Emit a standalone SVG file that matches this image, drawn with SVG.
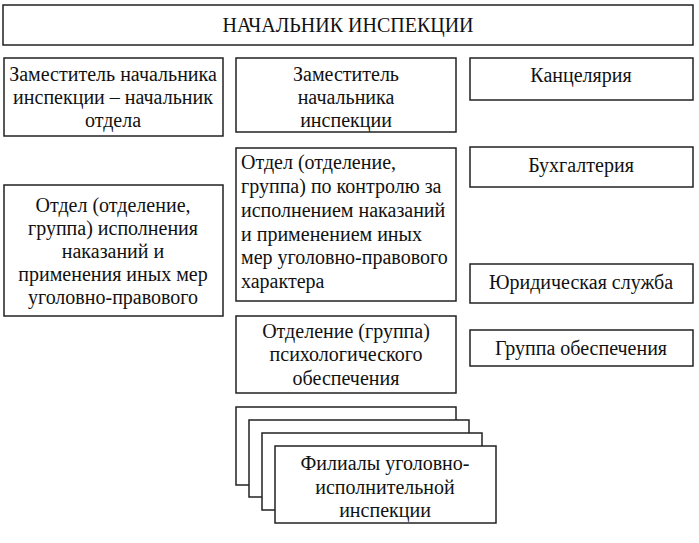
<svg xmlns="http://www.w3.org/2000/svg" width="699" height="543" viewBox="0 0 699 543">
<style>
rect{fill:#fff;stroke:#222;stroke-width:1.5}
text{font-family:"Liberation Serif","Times New Roman",serif;font-size:20px;fill:#111;text-anchor:middle}
.l{text-anchor:start}
</style>
<rect x="0" y="0" width="699" height="543" style="fill:#fff;stroke:none"/>
<g id="head"><rect x="3" y="5" width="690" height="40"/><text x="348" y="32">НАЧАЛЬНИК ИНСПЕКЦИИ</text></g>
<g id="dep1"><rect x="4" y="58" width="219" height="78"/>
<text x="113" y="81">Заместитель начальника</text><text x="113" y="104">инспекции – начальник</text><text x="113" y="127">отдела</text></g>
<g id="dep2"><rect x="236" y="58" width="220" height="74"/>
<text x="346" y="81">Заместитель</text><text x="346" y="104">начальника</text><text x="346" y="127">инспекции</text></g>
<g id="kanc"><rect x="470" y="58" width="223" height="42"/><text x="581" y="82">Канцелярия</text></g>
<g id="buh"><rect x="470" y="147" width="223" height="40"/><text x="581" y="172">Бухгалтерия</text></g>
<g id="otd1"><rect x="4" y="185" width="219" height="131"/>
<text x="113" y="212">Отдел (отделение,</text><text x="113" y="235">группа) исполнения</text><text x="113" y="258">наказаний и</text><text x="113" y="281">применения иных мер</text><text x="113" y="304">уголовно-правового</text></g>
<g id="otd2"><rect x="236" y="148" width="220" height="153"/>
<text class="l" x="241" y="169">Отдел (отделение,</text><text class="l" x="241" y="193">группа) по контролю за</text><text class="l" x="241" y="217">исполнением наказаний</text><text class="l" x="241" y="241">и применением иных</text><text class="l" x="241" y="264">мер уголовно-правового</text><text class="l" x="241" y="288">характера</text></g>
<g id="yur"><rect x="470" y="264" width="223" height="39"/><text x="581" y="289">Юридическая служба</text></g>
<g id="psy"><rect x="236" y="316" width="220" height="77"/>
<text x="346" y="338">Отделение (группа)</text><text x="346" y="361">психологического</text><text x="346" y="385">обеспечения</text></g>
<g id="grp"><rect x="470" y="330" width="223" height="36"/><text x="581" y="355">Группа обеспечения</text></g>
<g id="fil">
<rect x="236" y="407" width="220" height="78"/>
<rect x="249" y="420" width="220" height="77"/>
<rect x="262" y="433" width="220" height="77"/>
<rect x="275" y="446" width="221" height="77"/>
<text x="385" y="470">Филиалы уголовно-</text><text x="385" y="494">исполнительной</text><text x="385" y="517">инспекции</text></g>
<g id="connectors"></g>
</svg>
